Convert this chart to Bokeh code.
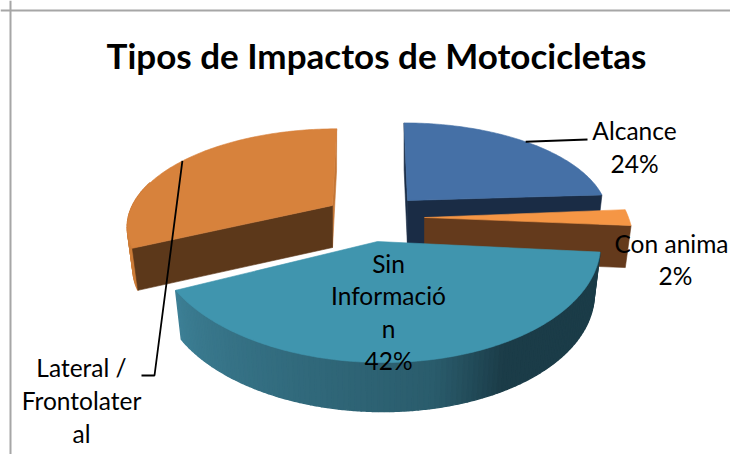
import math
from bokeh.plotting import figure
from bokeh.models import Range1d, Span
from bokeh.core.properties import value
from bokeh.embed import file_html
from bokeh.resources import INLINE

chart_title = "Tipos de Impactos de Motocicletas"
categories = ["Alcance", "Con anima", "Sin Información", "Lateral / Frontolateral"]
shares = [24, 2, 42, 32]
label_lines = [["Alcance", "24%"], ["Con anima", "2%"],
               ["Sin", "Informació", "n", "42%"], ["Lateral /", "Frontolater", "al"]]

# slice styling / layout (projection of each exploded slice, in page pixels)
geom = {
    "Alcance": dict(cx=407, cy=200, rx=197, ry=90, p=.16, sk=-4, d=47, ty=0),
    "Con anima": dict(cx=424, cy=217, rx=204, ry=127, p=.23, sk=0, d=42, ty=0),
    "Sin Información": dict(cx=377, cy=241, rx=223, ry=121, p=0, sk=0, d=49, ty=3),
    "Lateral / Frontolateral": dict(cx=332, cy=205, rx=200, ry=92, p=.2, sk=5, d=42, ty=0),
}
top_col = {"Alcance": "#4570a6", "Con anima": "#f59645", "Sin Información": "#4095ae",
           "Lateral / Frontolateral": "#d7823c"}
face_col = {"Alcance": "#1a2c45", "Con anima": "#643a1c", "Sin Información": "#1b3c48",
            "Lateral / Frontolateral": "#5c381a"}
label_pos = {"Alcance": (634, 130), "Con anima": (671, 243),
             "Sin Información": (388, 263), "Lateral / Frontolateral": (81, 367)}
LINE_H = {"Alcance": 33, "Con anima": 32, "Sin Información": 32.3, "Lateral / Frontolateral": 33}
line_dx = {"2%": 4}

cum = [0]
for s in shares:
    cum.append(cum[-1] + s)
spans = {c: (cum[i] * 3.6, cum[i + 1] * 3.6) for i, c in enumerate(categories)}


def pt(g, deg):
    t = math.radians(deg)
    u, v = math.sin(t), math.cos(t)
    s = 1 + g["p"] * v
    return g["cx"] + (g["rx"] * u + g["sk"] * v) / s, g["cy"] - g["ry"] * v / s + g["ty"] * u


def down(g, q):
    k = 0.028
    return q[0] + (g["cx"] - q[0]) * k, q[1] + g["d"]


def arc(g, a, b, step=1.0):
    n = max(2, int(abs(b - a) / step) + 1)
    return [pt(g, a + (b - a) * i / (n - 1)) for i in range(n)]


def mix(c1, c2, f):
    a = [int(c1[i:i + 2], 16) for i in (1, 3, 5)]
    b = [int(c2[i:i + 2], 16) for i in (1, 3, 5)]
    return "#%02x%02x%02x" % tuple(round(a[i] + (b[i] - a[i]) * f) for i in range(3))


p = figure(width=730, height=454, x_range=Range1d(0, 730), y_range=Range1d(454, 0),
           toolbar_location=None, output_backend="svg", min_border=0,
           background_fill_color="white", border_fill_color="white", outline_line_color=None)
p.axis.visible = False
p.grid.visible = False
p.add_layout(Span(location=10, dimension="height", line_color="#a6a6a6", line_width=2))
p.add_layout(Span(location=10, dimension="width", line_color="#a6a6a6", line_width=2))


def poly(pts, col, lw=0.6):
    p.patch([q[0] for q in pts], [q[1] for q in pts], fill_color=col, line_color=col, line_width=lw)


def side(g, a, b, fn, step=1.5):
    n = max(2, int(abs(b - a) / step) + 1)
    for i in range(n - 1):
        d0 = a + (b - a) * i / (n - 1)
        d1 = a + (b - a) * (i + 1) / (n - 1)
        seg = arc(g, d0, d1, 0.5)
        poly(seg + [down(g, q) for q in reversed(seg)], fn((d0 + d1) / 2), 1.5)


def radial(g, deg, col):
    apex = (g["cx"], g["cy"])
    e = pt(g, deg)
    poly([apex, e, down(g, e), down(g, apex)], col)


def draw_slice(c):
    g, (a, b) = geom[c], spans[c]
    if c == "Alcance":
        radial(g, a, face_col[c])
        radial(g, b, face_col[c])
    elif c == "Con anima":
        radial(g, b, face_col[c])
    elif c == "Sin Información":
        def grad(d):
            if d > 165:
                f = (b - d) / (b - 165)
                return mix("#3d8096", "#2a5c6c", f ** .8)
            if d > 145:
                return mix("#2a5c6c", "#1b3c48", (165 - d) / 20)
            return face_col[c]
        side(g, b, a, grad)
    else:
        radial(g, b, "#c47635")
        side(g, 285, a, lambda d: "#cc7c38")
        radial(g, a, face_col[c])
    apex = (g["cx"], g["cy"])
    poly([apex] + arc(g, a, b), top_col[c])


for c in ["Alcance", "Lateral / Frontolateral", "Con anima", "Sin Información"]:
    draw_slice(c)

# leader lines from the middle of each slice's rim
g = geom["Alcance"]
q = pt(g, sum(spans["Alcance"]) / 2)
p.line([q[0], 587], [q[1], 139], line_color="black", line_width=1.8)
g = geom["Lateral / Frontolateral"]
q = pt(g, sum(spans["Lateral / Frontolateral"]) / 2)
p.line([q[0], 154, 141], [q[1], 375, 375], line_color="black", line_width=1.8)

for c, lines in zip(categories, label_lines):
    x0, y0 = label_pos[c]
    for i, t in enumerate(lines):
        p.text([x0 + line_dx.get(t, 0)], [y0 + i * LINE_H[c]], text=[t], text_font=value("Lato"),
               text_font_size="24.5px", text_color="black", text_align="center", text_baseline="middle")

p.text([376], [54], text=[chart_title], text_font=value("Lato"), text_font_size="35px",
       text_font_style="bold", text_color="black", text_align="center", text_baseline="middle")

open("out.html", "w").write(file_html(p, INLINE))
